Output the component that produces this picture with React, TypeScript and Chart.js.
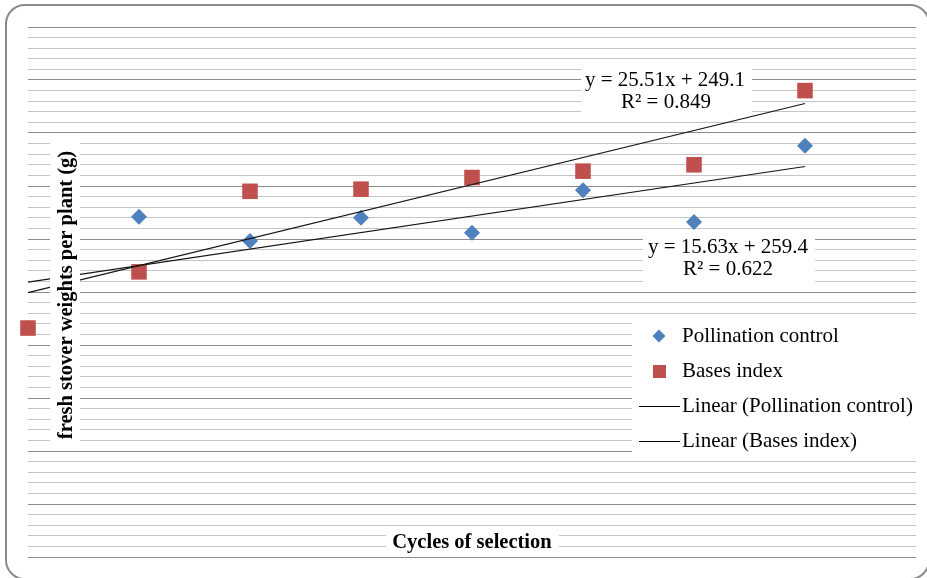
import React, { useEffect, useRef } from 'react';
import { Chart, registerables } from 'chart.js';

Chart.register(...registerables);

// ---- data ----
const cycles = [0, 1, 2, 3, 4, 5, 6, 7];
const pollinationControl = [216, 321, 298, 320, 306, 346, 316, 388];
const basesIndex = [216, 269, 345, 347, 358, 364, 370, 440];
const seriesNames = ['Pollination control', 'Bases index'];
const trendNames = ['Linear (Pollination control)', 'Linear (Bases index)'];
const eqPollination = ['y = 15.63x + 259.4', 'R\u00B2 = 0.622'];
const eqBases = ['y = 25.51x + 249.1', 'R\u00B2 = 0.849'];
const yTitle = 'fresh stover weights per plant (g)';
const xTitle = 'Cycles of selection';
const yMin = 0;
const yMax = 500;
const yMinorStep = 10;
const yMajorStep = 50;
const xMin = 0;
const xMax = 8;

const BLUE = '#4F81BD';
const RED = '#C0504D';
const SERIF = '"Liberation Serif", "Times New Roman", serif';

function fit(xs: number[], ys: number[]) {
  const n = xs.length;
  const mx = xs.reduce((a, b) => a + b, 0) / n;
  const my = ys.reduce((a, b) => a + b, 0) / n;
  let sxy = 0;
  let sxx = 0;
  for (let i = 0; i < n; i++) {
    sxy += (xs[i] - mx) * (ys[i] - my);
    sxx += (xs[i] - mx) * (xs[i] - mx);
  }
  const b = sxy / sxx;
  const a = my - b * mx;
  return [
    { x: xs[0], y: a + b * xs[0] },
    { x: xs[n - 1], y: a + b * xs[n - 1] },
  ];
}

const overlayPlugin = {
  id: 'overlay',
  afterDraw(chart: any) {
    const ctx = chart.ctx as CanvasRenderingContext2D;
    ctx.save();
    // white label boxes that hide gridlines
    ctx.fillStyle = '#ffffff';
    ctx.fillRect(50, 143, 30, 299); // y title
    ctx.fillRect(581, 68, 171, 45); // eq bases
    ctx.fillRect(643, 232, 172, 53); // eq pollination
    ctx.fillRect(632, 322, 286, 131); // legend
    ctx.fillRect(386, 531, 173, 23); // x title

    ctx.fillStyle = '#000000';
    ctx.textBaseline = 'middle';

    // axis titles
    ctx.font = `bold 20.5px ${SERIF}`;
    ctx.textAlign = 'center';
    ctx.fillText(xTitle, 472, 543);
    ctx.save();
    ctx.translate(67, 295);
    ctx.rotate(-Math.PI / 2);
    ctx.fillText(yTitle, 0, 0);
    ctx.restore();

    // equations
    ctx.font = `21px ${SERIF}`;
    ctx.fillText(eqBases[0], 665, 80);
    ctx.fillText(eqBases[1], 666, 102);
    ctx.fillText(eqPollination[0], 728, 247);
    ctx.fillText(eqPollination[1], 728, 269);

    // legend
    const rows = [336, 371, 406, 441];
    ctx.textAlign = 'left';
    ctx.fillText(seriesNames[0], 682, rows[0]);
    ctx.fillText(seriesNames[1], 682, rows[1]);
    ctx.fillText(trendNames[0], 682, rows[2]);
    ctx.fillText(trendNames[1], 682, rows[3]);
    // diamond
    ctx.fillStyle = BLUE;
    ctx.beginPath();
    ctx.moveTo(659, rows[0] - 6.5);
    ctx.lineTo(665.5, rows[0]);
    ctx.lineTo(659, rows[0] + 6.5);
    ctx.lineTo(652.5, rows[0]);
    ctx.closePath();
    ctx.fill();
    // square
    ctx.fillStyle = RED;
    ctx.fillRect(653, rows[1] - 6, 13, 13);
    // lines
    ctx.strokeStyle = '#000000';
    ctx.lineWidth = 1;
    ctx.beginPath();
    ctx.moveTo(639, rows[2] + 0.5);
    ctx.lineTo(680, rows[2] + 0.5);
    ctx.moveTo(639, rows[3] + 0.5);
    ctx.lineTo(680, rows[3] + 0.5);
    ctx.stroke();
    ctx.restore();
  },
};

export default function App() {
  const canvasRef = useRef<HTMLCanvasElement | null>(null);

  useEffect(() => {
    if (!canvasRef.current) return;
    const pc = cycles.map((x, i) => ({ x, y: pollinationControl[i] }));
    const bi = cycles.map((x, i) => ({ x, y: basesIndex[i] }));
    const chart = new Chart(canvasRef.current, {
      type: 'scatter',
      data: {
        datasets: [
          {
            label: trendNames[0],
            data: fit(cycles, pollinationControl),
            showLine: true,
            borderColor: '#141414',
            borderWidth: 1.1,
            pointRadius: 0,
            order: 0,
            clip: false,
          },
          {
            label: trendNames[1],
            data: fit(cycles, basesIndex),
            showLine: true,
            borderColor: '#141414',
            borderWidth: 1.1,
            pointRadius: 0,
            order: 0,
            clip: false,
          },
          {
            label: seriesNames[1],
            data: bi,
            pointStyle: 'rect',
            pointRadius: 11,
            backgroundColor: RED,
            borderColor: RED,
            borderWidth: 0,
            order: 1,
            clip: false,
          },
          {
            label: seriesNames[0],
            data: pc,
            pointStyle: 'rectRot',
            pointRadius: 8,
            backgroundColor: BLUE,
            borderColor: BLUE,
            borderWidth: 0,
            order: 2,
            clip: false,
          },
        ],
      },
      options: {
        responsive: false,
        animation: false,
        devicePixelRatio: 1,
        layout: { padding: { left: 28, right: 9, top: 27, bottom: 21 } },
        plugins: {
          legend: { display: false },
          tooltip: { enabled: false },
          title: { display: false },
        },
        scales: {
          x: {
            type: 'linear',
            min: xMin,
            max: xMax,
            display: false,
            afterFit: (s: any) => {
              s.height = 0;
            },
          },
          y: {
            type: 'linear',
            min: yMin,
            max: yMax,
            ticks: { display: false, stepSize: yMinorStep },
            border: { display: false },
            grid: {
              drawTicks: false,
              tickLength: 0,
              lineWidth: 1,
              color: (c: any) =>
                c.tick && c.tick.value % yMajorStep === 0 ? '#8c8c8c' : '#c4c4c4',
            },
            afterFit: (s: any) => {
              s.width = 0;
            },
          },
        },
      },
      plugins: [overlayPlugin],
    } as any);
    return () => chart.destroy();
  }, []);

  return (
    <div
      style={{
        position: 'absolute',
        left: 0,
        top: 0,
        width: 927,
        height: 578,
        overflow: 'hidden',
        background: '#ffffff',
      }}
    >
      <canvas
        ref={canvasRef}
        width={927}
        height={578}
        style={{ position: 'absolute', left: 0, top: 0, width: 927, height: 578 }}
      />
      <div
        style={{
          position: 'absolute',
          left: 5,
          top: 4,
          width: 925,
          height: 576,
          boxSizing: 'border-box',
          border: '2px solid #8a8a8a',
          borderRadius: 20,
          pointerEvents: 'none',
        }}
      />
    </div>
  );
}
